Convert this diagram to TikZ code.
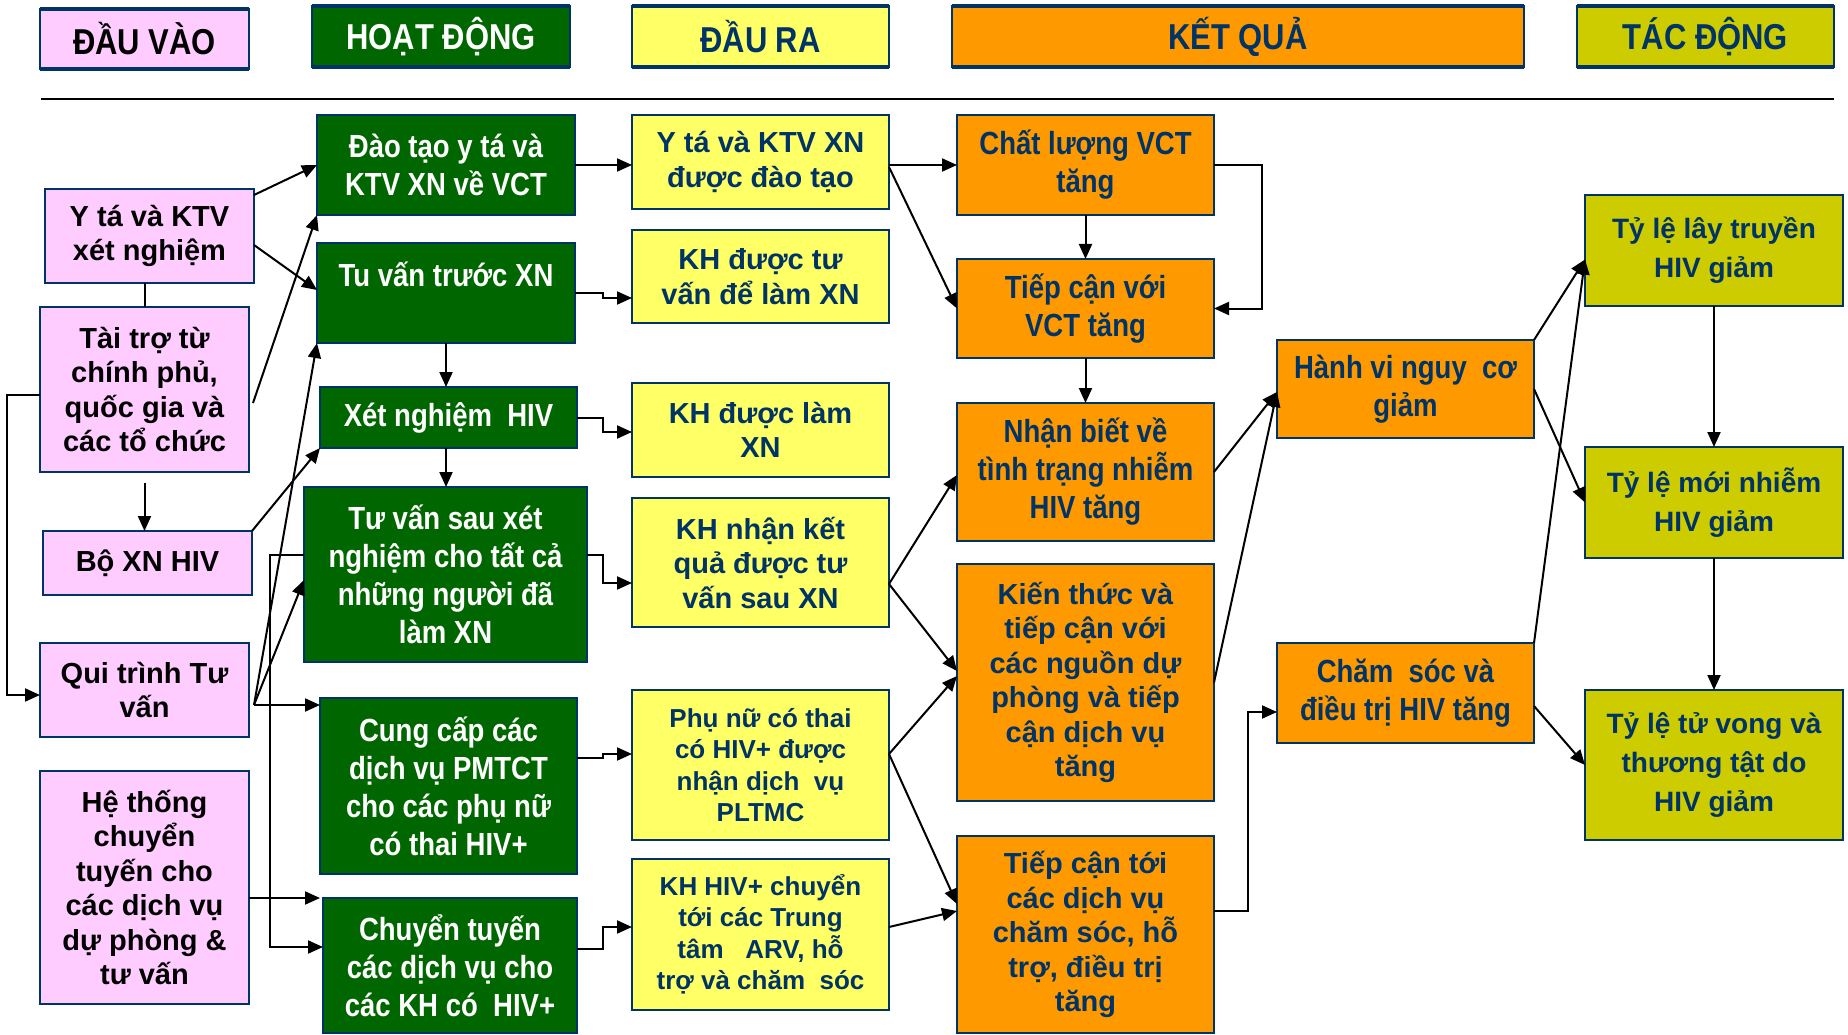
\documentclass[tikz,border=0pt]{standalone}
\usepackage{fontspec}
\setmainfont{Liberation Sans}
\newfontfamily\narfam[FakeStretch=0.86]{Liberation Sans}
\usetikzlibrary{arrows.meta}
\definecolor{navy}{HTML}{003366}
\definecolor{pinkc}{HTML}{FFCCFF}
\definecolor{greenc}{HTML}{006600}
\definecolor{yellowc}{HTML}{FFFF66}
\definecolor{orangec}{HTML}{FF9900}
\definecolor{olivec}{HTML}{CCCC00}
\newcommand\fReg{\fontsize{29}{34.5}\selectfont\bfseries}
\newcommand\fNar{\narfam\fontsize{32}{38}\selectfont\bfseries}
\newcommand\fSm{\fontsize{26}{31.5}\selectfont\bfseries}
\newcommand\fOl{\fontsize{28}{39}\selectfont\bfseries}
\newcommand\fHd{\narfam\fontsize{36}{40}\selectfont\bfseries}
\tikzset{
  box/.style={draw=navy, line width=2pt, inner sep=0pt, outer sep=0pt, align=center},
  pk/.style={box, fill=pinkc, text=black, font=\fReg},
  gr/.style={box, fill=greenc, text=white, font=\fNar},
  ye/.style={box, fill=yellowc, text=navy, font=\fReg},
  yesm/.style={box, fill=yellowc, text=navy, font=\fSm},
  orn/.style={box, fill=orangec, text=navy, font=\fNar},
  orr/.style={box, fill=orangec, text=navy, font=\fReg},
  olv/.style={box, fill=olivec, text=navy, font=\fOl},
  hd/.style={draw=navy, line width=1.2pt, inner sep=0pt, outer sep=0pt, font=\fHd},
  arr/.style={-{Triangle[length=15pt,width=13pt]}, line width=2pt, black},
  ln/.style={line width=2pt, black},
  hbar/.style={line width=3.5pt, navy}
}
\begin{document}
\begin{tikzpicture}[x=1pt,y=-1pt]
\useasboundingbox (0,0) rectangle (1848,1035);
% headers
\node[hd, fill=pinkc, text=black, minimum width=209pt, minimum height=60pt] (h1) at (144.5,39) {ĐẦU VÀO};
\node[hd, fill=greenc, text=white, minimum width=258pt, minimum height=61pt] (h2) at (441,36.5) {HOẠT ĐỘNG};
\node[hd, fill=yellowc, text=navy, minimum width=257pt, minimum height=61pt] (h3) at (760.5,36.5) {ĐẦU RA};
\node[hd, fill=orangec, text=navy, minimum width=572pt, minimum height=61pt] (h4) at (1238,36.5) {KẾT QUẢ};
\node[hd, fill=olivec, text=navy, minimum width=257pt, minimum height=61pt] (h5) at (1705.5,36.5) {TÁC ĐỘNG};
\foreach \h in {h1,h2,h3,h4,h5}{
  \draw[hbar] (\h.north west) -- (\h.north east);
  \draw[hbar] (\h.south west) -- (\h.south east);
}
\coordinate (la) at (41,99);
\coordinate (lb) at (1834,99);
\draw[line width=2.5pt] (la) -- (lb);
% inputs
\node[pk, minimum width=209pt, minimum height=94pt] (yta) at (149.5,236) {Y tá và KTV\\xét nghiệm};
\node[pk, minimum width=209pt, minimum height=165pt] (taitro) at (144.5,389.5) {Tài trợ từ\\chính phủ,\\quốc gia và\\các tổ chức};
\node[pk, minimum width=209pt, minimum height=64pt] (boxn) at (147.5,563) {Bộ XN HIV};
\node[pk, minimum width=209pt, minimum height=94pt] (quitrinh) at (144.5,690) {Qui trình Tư\\vấn};
\node[pk, minimum width=209pt, minimum height=233pt] (hethong) at (144.5,887.5) {Hệ thống\\chuyển\\tuyến cho\\các dịch vụ\\dự phòng \&\\tư vấn};
% activities
\node[gr, minimum width=258pt, minimum height=100pt] (daotao) at (446,165) {Đào tạo y tá và\\KTV XN về VCT};
\node[gr, minimum width=258pt, minimum height=100pt] (tuvantruoc) at (446,293) {Tu vấn trước XN\\\mbox{}};
\node[gr, minimum width=257pt, minimum height=61pt] (xetnghiem) at (448.5,417.5) {Xét nghiệm\ \ HIV};
\node[gr, minimum width=283pt, minimum height=175pt] (tuvansau) at (445.5,574.5) {Tư vấn sau xét\\nghiệm cho tất cả\\những người đã\\làm XN};
\node[gr, minimum width=257pt, minimum height=176pt] (cungcap) at (448.5,786) {Cung cấp các\\dịch vụ PMTCT\\cho các phụ nữ\\có thai HIV+};
\node[gr, minimum width=254pt, minimum height=135pt] (chuyentuyen) at (450,965.5) {Chuyển tuyến\\các dịch vụ cho\\các KH có\ \ HIV+};
% outputs
\node[ye, minimum width=257pt, minimum height=94pt] (ytaktv) at (760.5,162) {Y tá và KTV XN\\được đào tạo};
\node[ye, minimum width=257pt, minimum height=93pt] (khtuvan) at (760.5,276.5) {KH được tư\\vấn để làm XN};
\node[ye, minimum width=257pt, minimum height=94pt] (khlam) at (760.5,430) {KH được làm\\XN};
\node[ye, minimum width=257pt, minimum height=129pt] (khnhan) at (760.5,562.5) {KH nhận kết\\quả được tư\\vấn sau XN};
\node[yesm, minimum width=257pt, minimum height=150pt] (phunu) at (760.5,765) {Phụ nữ có thai\\có HIV+ được\\nhận dịch\ \ vụ\\PLTMC};
\node[yesm, minimum width=257pt, minimum height=151pt] (khhiv) at (760.5,934.5) {KH HIV+ chuyển\\tới các Trung\\tâm\ \ \ ARV, hỗ\\trợ và chăm\ \ sóc};
% outcomes
\node[orn, minimum width=257pt, minimum height=100pt] (chatluong) at (1085.5,165) {Chất lượng VCT\\tăng};
\node[orn, minimum width=257pt, minimum height=99pt] (tiepcanvct) at (1085.5,308.5) {Tiếp cận với\\VCT tăng};
\node[orn, minimum width=257pt, minimum height=138pt] (nhanbiet) at (1085.5,472) {Nhận biết về\\tình trạng nhiễm\\HIV tăng};
\node[orr, minimum width=257pt, minimum height=237pt] (kienthuc) at (1085.5,682.5) {Kiến thức và\\tiếp cận với\\các nguồn dự\\phòng và tiếp\\cận dịch vụ\\tăng};
\node[orr, minimum width=257pt, minimum height=197pt] (tiepcantoi) at (1085.5,934.5) {Tiếp cận tới\\các dịch vụ\\chăm sóc, hỗ\\trợ, điều trị\\tăng};
\node[orn, minimum width=257pt, minimum height=98pt] (hanhvi) at (1405.5,389) {Hành vi nguy\ \ cơ\\giảm};
\node[orn, minimum width=257pt, minimum height=100pt] (chamsoc) at (1405.5,693) {Chăm\ \ sóc và\\điều trị HIV tăng};
% impacts
\node[olv, minimum width=258pt, minimum height=111pt] (laytruyen) at (1714,250.5) {Tỷ lệ lây truyền\\HIV giảm};
\node[olv, minimum width=258pt, minimum height=111pt] (moinhiem) at (1714,502.5) {Tỷ lệ mới nhiễm\\HIV giảm};
\node[olv, minimum width=258pt, minimum height=150pt] (tuvong) at (1714,765) {Tỷ lệ tử vong và\\thương tật do\\HIV giảm};
% input connectors
\draw[ln] (taitro.north |- yta.south) -- (taitro.north);
\draw[arr] ([yshift=-11pt]taitro.south) -- (taitro.south |- boxn.north);
\draw[arr] ([yshift=-5.5pt]taitro.west) -- ++(-33,0) |- ([yshift=-5pt]quitrinh.west);
\draw[arr] ([yshift=41pt]yta.east) -- (daotao.west);
\draw[arr] ([yshift=-9pt]yta.east) -- ([yshift=3pt]tuvantruoc.west);
\draw[arr] ([xshift=4pt,yshift=-13.5pt]taitro.east) -- (daotao.south west);
\draw[arr] (boxn.north east) -- (xetnghiem.south west);
\coordinate (qo) at ([xshift=5pt,yshift=-15pt]quitrinh.east);
\draw[arr] (qo) -- (tuvantruoc.south west);
\draw[arr] (qo) -- ([yshift=-5.5pt]tuvansau.west);
\draw[arr] (qo) -- (qo -| cungcap.west);
\draw[arr] (hethong.east |- chuyentuyen.north west) -- ([xshift=-3pt]chuyentuyen.north west);
\draw[arr] ([yshift=19.5pt]tuvansau.west) -- ++(-34,0) |- ([yshift=18.5pt]chuyentuyen.west);
% activity connectors
\draw[arr] (tuvantruoc.south) -- (tuvantruoc.south |- xetnghiem.north);
\draw[arr] (tuvantruoc.south |- xetnghiem.south) -- (tuvantruoc.south |- tuvansau.north);
\draw[arr] (daotao.east) -- (daotao.east -| ytaktv.west);
\draw[arr] (tuvantruoc.east) -- ++(28,0) |- ([yshift=-21.5pt]khtuvan.west);
\draw[arr] (xetnghiem.east) -- ++(26,0) |- ([yshift=-2pt]khlam.west);
\draw[arr] ([yshift=19.5pt]tuvansau.east) -- ++(16,0) |- ([yshift=-20.5pt]khnhan.west);
\draw[arr] ([yshift=28pt]cungcap.east) -- ++(26,0) |- ([yshift=11pt]phunu.west);
\draw[arr] ([yshift=16.5pt]chuyentuyen.east) -- ++(26,0) |- ([yshift=7.5pt]khhiv.west);
% output connectors
\draw[arr] (chatluong.west -| ytaktv.east) -- (chatluong.west);
\draw[arr] ([yshift=-5pt]ytaktv.east) -- (tiepcanvct.west);
\coordinate (kn) at ([yshift=-21.5pt]khnhan.east);
\draw[arr] (kn) -- ([yshift=-3pt]nhanbiet.west);
\draw[arr] (kn) -- ([yshift=11.5pt]kienthuc.west);
\coordinate (pn) at ([yshift=11pt]phunu.east);
\draw[arr] (pn) -- ([yshift=6.5pt]kienthuc.west);
\draw[arr] (pn) -- ([yshift=30.5pt]tiepcantoi.west);
\draw[arr] ([yshift=7.5pt]khhiv.east) -- ([yshift=23.5pt]tiepcantoi.west);
% outcome connectors
\draw[arr] (chatluong.south) -- (tiepcanvct.north);
\draw[arr] (tiepcanvct.south) -- (nhanbiet.north);
\draw[arr] (chatluong.east) -- ++(48,0) |- (tiepcanvct.east);
\coordinate (hv) at ([yshift=-3pt]hanhvi.west);
\draw[arr] (nhanbiet.east) -- (hv);
\draw[arr] (kienthuc.east) -- (hv);
\draw[arr] ([yshift=23.5pt]tiepcantoi.east) -- ++(34,0) |- ([yshift=-19pt]chamsoc.west);
% impact connectors
\coordinate (lt) at ([yshift=-9pt]laytruyen.west);
\draw[arr] (hanhvi.north east) -- (lt);
\draw[arr] (hanhvi.east) -- (moinhiem.west);
\draw[arr] (chamsoc.north east) -- (lt);
\draw[arr] ([yshift=-13pt]chamsoc.east) -- (tuvong.west);
\draw[arr] (laytruyen.south) -- (moinhiem.north);
\draw[arr] (moinhiem.south) -- (tuvong.north);
\end{tikzpicture}
\end{document}
